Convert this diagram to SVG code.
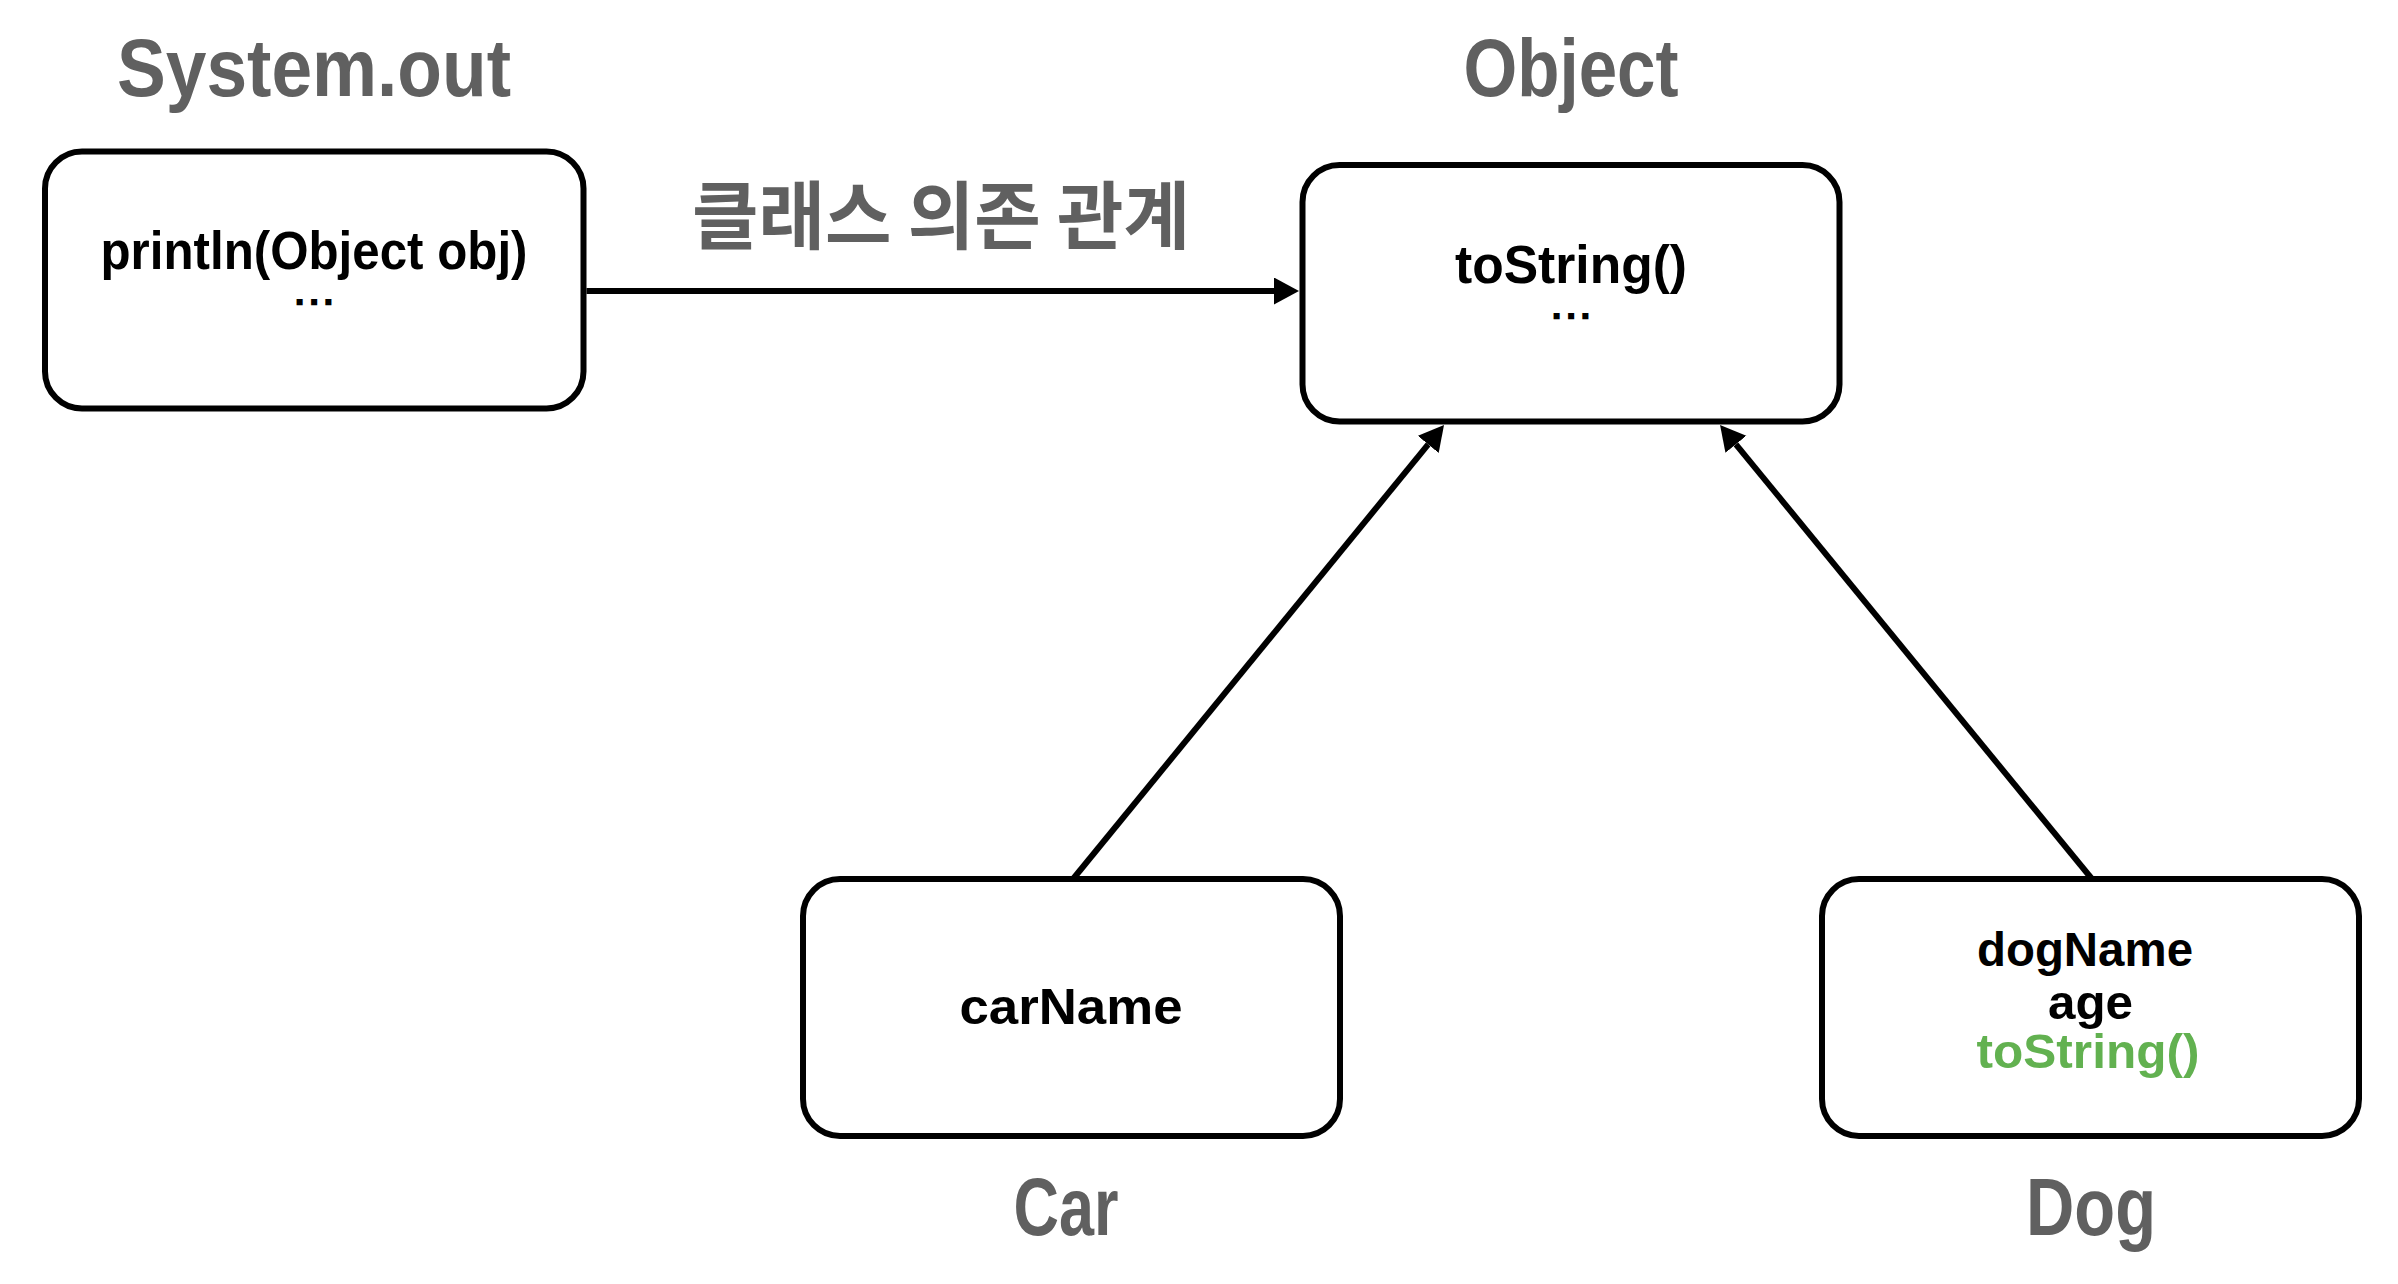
<svg xmlns="http://www.w3.org/2000/svg" width="2398" height="1284" viewBox="0 0 2398 1284">
<defs>
<style>
.box{fill:#fff;stroke:#000;stroke-width:6}
.t{font-family:"Liberation Sans",Arial,sans-serif;font-weight:bold;fill:#000;text-anchor:middle}
.dots{font-family:"Liberation Sans",Arial,sans-serif;font-weight:bold;fill:#000;stroke:#000;stroke-width:2.4;text-anchor:middle;font-size:26px}
.title{font-family:"Liberation Sans",Arial,sans-serif;font-weight:bold;fill:#606060;text-anchor:middle;font-size:82px}
.kr{font-family:"Noto Sans CJK KR","Noto Sans",sans-serif;font-weight:bold;fill:#606060;font-size:74px}
.edge{fill:none;stroke:#000;stroke-width:6}
</style>
<marker id="arr" markerUnits="userSpaceOnUse" markerWidth="26" markerHeight="28" refX="0" refY="13.5" orient="auto" viewBox="0 0 26 28">
<path d="M0,0 L25,13.5 L0,27 Z" fill="#000"/>
</marker>
</defs>
<rect width="2398" height="1284" fill="#fff"/>

<g id="connectors">
<path class="edge" d="M586.5,291 L1274,291" marker-end="url(#arr)"/>
<path class="edge" d="M1073,879 L1428.2,444.4" marker-end="url(#arr)"/>
<path class="edge" d="M2092,879 L1735.9,444.3" marker-end="url(#arr)"/>
<text class="kr" x="692" y="243" textLength="498" lengthAdjust="spacingAndGlyphs">클래스 의존 관계</text>
</g>

<g id="system-out">
<text class="title" x="314" y="96" textLength="394" lengthAdjust="spacingAndGlyphs">System.out</text>
<rect class="box" x="45" y="151.5" width="538.5" height="257" rx="37" ry="37"/>
<text class="t" x="314" y="269" font-size="54" textLength="427" lengthAdjust="spacingAndGlyphs">println(Object obj)</text>
<text class="dots" x="314" y="304" textLength="36" lengthAdjust="spacing">...</text>
</g>

<g id="object">
<text class="title" x="1571" y="96" textLength="215" lengthAdjust="spacingAndGlyphs">Object</text>
<rect class="box" x="1302.5" y="165" width="537" height="256.5" rx="37" ry="37"/>
<text class="t" x="1571" y="283" font-size="54" textLength="232" lengthAdjust="spacingAndGlyphs">toString()</text>
<text class="dots" x="1571" y="317.5" textLength="36" lengthAdjust="spacing">...</text>
</g>

<g id="car">
<rect class="box" x="803" y="879" width="537" height="257" rx="37" ry="37"/>
<text class="t" x="1071" y="1024" font-size="50" textLength="223" lengthAdjust="spacingAndGlyphs">carName</text>
<text class="title" x="1066" y="1235" textLength="105" lengthAdjust="spacingAndGlyphs">Car</text>
</g>

<g id="dog">
<rect class="box" x="1822" y="879" width="537" height="257" rx="37" ry="37"/>
<text class="t" x="2085" y="966" font-size="48" textLength="216" lengthAdjust="spacingAndGlyphs">dogName</text>
<text class="t" x="2090.5" y="1019" font-size="48" textLength="85" lengthAdjust="spacingAndGlyphs">age</text>
<text class="t" x="2088" y="1068" font-size="48" textLength="223" lengthAdjust="spacingAndGlyphs" style="fill:#62B150">toString()</text>
<text class="title" x="2091" y="1235" textLength="130" lengthAdjust="spacingAndGlyphs">Dog</text>
</g>
</svg>
